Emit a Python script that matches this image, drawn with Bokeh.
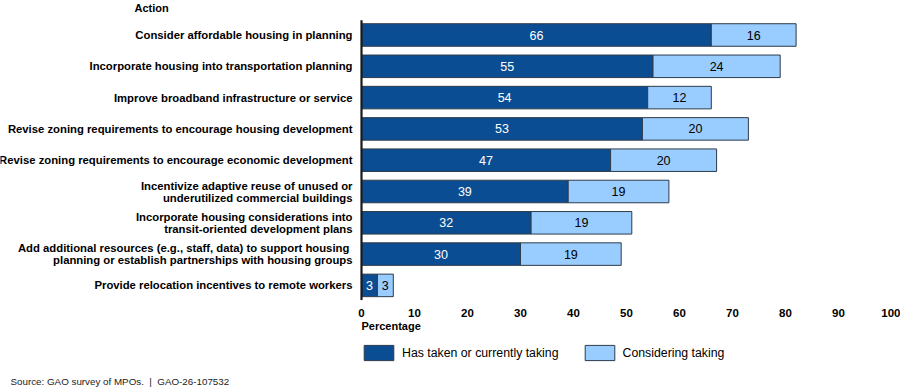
from bokeh.plotting import figure
from bokeh.layouts import column
from bokeh.models import (ColumnDataSource, Range1d, LabelSet, Label, Legend,
                          FixedTicker)
from bokeh.core.properties import value
from bokeh.embed import file_html
from bokeh.resources import INLINE

# ---------------- data ----------------
actions = [
    "Consider affordable housing in planning",
    "Incorporate housing into transportation planning",
    "Improve broadband infrastructure or service",
    "Revise zoning requirements to encourage housing development",
    "Revise zoning requirements to encourage economic development",
    "Incentivize adaptive reuse of unused or\nunderutilized commercial buildings",
    "Incorporate housing considerations into\ntransit-oriented development plans",
    "Add additional resources (e.g., staff, data) to support  housing\nplanning or establish partnerships with housing groups",
    "Provide relocation incentives to remote workers",
]
taken = [66, 55, 54, 53, 47, 39, 32, 30, 3]
considering = [16, 24, 12, 20, 20, 19, 19, 19, 3]
x_ticks = [0, 10, 20, 30, 40, 50, 60, 70, 80, 90, 100]
series_names = ["Has taken or currently taking", "Considering taking"]
y_title = "Action"
x_title = "Percentage"
source_note = "Source: GAO survey of MPOs.\u00a0 |\u00a0 GAO-26-107532"

# ---------------- style / layout ----------------
FONT = "Liberation Sans"
DARK = "#0B4D92"
LIGHT = "#99CCFF"
OUTLINE = "#2E3B4A"
W = 900
H_MAIN, H_BOT = 300, 88
X0_PX, X_SCALE = 361.0, 5.3          # pixel of 0 %, pixels per 1 %
Y0_PX, PITCH = 34.5, 31.3            # centre of first row, row pitch
LINE_PX = 12.0                        # line spacing of wrapped labels
BOT_TOP = 318                          # page y of bottom frame top


def px_x(px):
    return (px - X0_PX) / X_SCALE


def px_y(py):
    return (py - Y0_PX) / PITCH


x_range = Range1d(px_x(0), px_x(W))

idx = list(range(len(actions)))
total = [a + b for a, b in zip(taken, considering)]
src = ColumnDataSource(dict(
    y=idx,
    taken=taken,
    total=total,
    zero=[0] * len(idx),
    mid_taken=[a / 2.0 for a in taken],
    mid_cons=[a + b / 2.0 for a, b in zip(taken, considering)],
    lab_taken=[str(v) for v in taken],
    lab_cons=[str(v) for v in considering],
))

# one entry per text line of the category labels (each line right-aligned)
line_y, line_text = [], []
for i, a in enumerate(actions):
    parts = a.split("\n")
    n = len(parts)
    for k, part in enumerate(parts):
        line_y.append(i + (k - (n - 1) / 2.0) * LINE_PX / PITCH)
        line_text.append(part)
cat_src = ColumnDataSource(dict(y=line_y, text=line_text,
                                x=[0] * len(line_y)))

# ---------------- main figure (bars + labels) ----------------
p = figure(width=W, height=H_MAIN, output_backend="svg", toolbar_location=None,
           x_range=x_range, y_range=Range1d(px_y(H_MAIN), px_y(0)),
           x_axis_location=None, y_axis_location=None,
           min_border=0)
p.outline_line_color = None
p.xgrid.visible = False
p.ygrid.visible = False

r1 = p.hbar(y="y", left="zero", right="taken", height=0.72, source=src,
            fill_color=DARK, line_color=OUTLINE, line_width=1)
r2 = p.hbar(y="y", left="taken", right="total", height=0.72, source=src,
            fill_color=LIGHT, line_color=OUTLINE, line_width=1)

# vertical category axis line, spanning the rows
p.segment(x0=[0], x1=[0], y0=[idx[0] - 0.47], y1=[idx[-1] + 0.47],
          line_color="#1A1A1A", line_width=2.2)

p.add_layout(LabelSet(x="x", y="y", text="text", source=cat_src,
                      x_offset=-9, text_align="right", text_baseline="middle",
                      text_font=value(FONT), text_font_style="bold",
                      text_font_size="11.3px", text_color="black"))
p.add_layout(LabelSet(x="mid_taken", y="y", text="lab_taken", source=src,
                      text_align="center", text_baseline="middle",
                      text_font=value(FONT), text_font_size="12.5px",
                      text_color="white"))
p.add_layout(LabelSet(x="mid_cons", y="y", text="lab_cons", source=src,
                      text_align="center", text_baseline="middle",
                      text_font=value(FONT), text_font_size="12.5px",
                      text_color="black"))
p.add_layout(Label(x=px_x(134), y=px_y(7.5), text=y_title, text_font=FONT,
                   text_font_style="bold", text_font_size="11px",
                   text_align="left", text_baseline="middle",
                   text_color="black"))

# ---------------- bottom figure (x axis, legend, note) ----------------
b = figure(width=W, height=H_BOT, output_backend="svg", toolbar_location=None,
           x_range=x_range, y_range=Range1d(H_MAIN + H_BOT - BOT_TOP, 0),
           x_axis_location="above", y_axis_location=None,
           min_border=0, min_border_top=BOT_TOP - H_MAIN)
b.outline_line_color = None
b.xgrid.visible = False
b.ygrid.visible = False

xa = b.xaxis[0]
xa.ticker = FixedTicker(ticks=x_ticks)
xa.axis_line_color = None
xa.major_tick_line_color = None
xa.minor_tick_line_color = None
xa.major_tick_in = 0
xa.major_tick_out = 0
xa.major_label_standoff = 2
xa.major_label_text_font = FONT
xa.major_label_text_font_style = "bold"
xa.major_label_text_font_size = "11.5px"
xa.major_label_text_color = "black"

b.add_layout(Label(x=0, y=325 - BOT_TOP, text=x_title, text_font=FONT,
                   text_font_style="bold", text_font_size="11px",
                   text_align="left", text_baseline="middle",
                   text_color="black"))
b.add_layout(Label(x=px_x(10), y=381 - BOT_TOP, text=source_note,
                   text_font=FONT, text_font_size="9.8px", text_align="left",
                   text_baseline="middle", text_color="#222222"))

# hidden proxies that only supply the legend swatches
lg1 = b.hbar(y="y", left="zero", right="taken", height=0.72, source=src,
             fill_color=DARK, line_color=OUTLINE, line_width=1, visible=False)
lg2 = b.hbar(y="y", left="taken", right="total", height=0.72, source=src,
             fill_color=LIGHT, line_color=OUTLINE, line_width=1, visible=False)
legend = Legend(items=[(series_names[0], [lg1]), (series_names[1], [lg2])],
                orientation="horizontal", location=(360, 388 - 362),
                glyph_width=37, glyph_height=19, label_standoff=5,
                spacing=22, padding=0, margin=0,
                border_line_color=None, background_fill_alpha=0,
                inactive_fill_alpha=0,
                label_text_font=FONT, label_text_font_size="12.3px",
                label_text_color="black", label_height=19)
b.add_layout(legend)

layout = column(p, b, spacing=0)
open("out.html", "w").write(file_html(layout, INLINE))
